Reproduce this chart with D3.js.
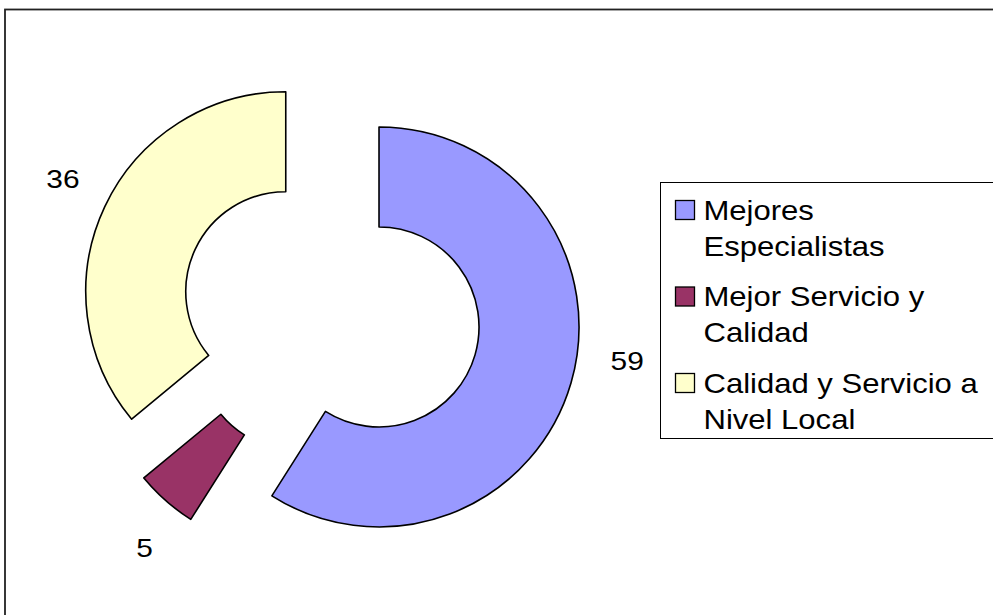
<!DOCTYPE html>
<html>
<head>
<meta charset="utf-8">
<script src="https://cdn.jsdelivr.net/npm/d3@7"></script>
<style>
  body { margin: 0; background: #fff; }
  svg { display: block; }
  text { font-family: "Liberation Sans", Arial, sans-serif; fill: #000; }
</style>
</head>
<body>
<div id="chart"></div>
<script>
// datos del gráfico
var categories = ["Mejores Especialistas", "Mejor Servicio y Calidad", "Calidad y Servicio a Nivel Local"];
var values = [59, 5, 36];
var colors = ["#9999FF", "#993366", "#FFFFCC"];
// texto de la leyenda partido en líneas como en el original
var legendLines = [["Mejores", "Especialistas"], ["Mejor Servicio y", "Calidad"], ["Calidad y Servicio a", "Nivel Local"]];

var width = 993, height = 615;
var cx = 331, cy = 313;          // centro del anillo
var outerR = 200, innerR = 100;  // radios
var explode = 50;                // separación de cada sector
var labelR = 300;                // radio de las etiquetas
var labelNudge = [-7, -3, 1.5];  // ajuste del ángulo de cada etiqueta (grados), como lo coloca Excel
var stretch = 1.15;              // el texto original sale algo ensanchado

var svg = d3.select("#chart").append("svg")
  .attr("width", width)
  .attr("height", height);

// marco del gráfico
svg.append("rect")
  .attr("x", 5).attr("y", 9.5)
  .attr("width", width + 20).attr("height", height + 20)
  .attr("fill", "none")
  .attr("stroke", "#222")
  .attr("stroke-width", 1.8);

var pie = d3.pie().sort(null).value(function (d) { return d; });
var arcs = pie(values);
var arc = d3.arc().innerRadius(innerR).outerRadius(outerR);

var g = svg.append("g").attr("transform", "translate(" + cx + "," + cy + ")");

g.selectAll("path.slice")
  .data(arcs)
  .enter()
  .append("path")
  .attr("class", "slice")
  .attr("transform", function (d) {
    var a = (d.startAngle + d.endAngle) / 2;
    return "translate(" + Math.sin(a) * explode + "," + -Math.cos(a) * explode + ")";
  })
  .attr("d", arc)
  .attr("fill", function (d, i) { return colors[i]; })
  .attr("stroke", "#000")
  .attr("stroke-width", 1.6)
  .attr("stroke-linejoin", "round");

// etiquetas de valores
g.selectAll("text.val")
  .data(arcs)
  .enter()
  .append("text")
  .attr("class", "val")
  .attr("transform", function (d, i) {
    var a = (d.startAngle + d.endAngle) / 2 + labelNudge[i] * Math.PI / 180;
    return "translate(" + Math.sin(a) * labelR + "," + -Math.cos(a) * labelR + ") scale(" + stretch + ",1)";
  })
  .attr("text-anchor", "middle")
  .attr("dy", "0.36em")
  .style("font-size", "26px")
  .text(function (d) { return d.data; });

// leyenda
var legend = svg.append("g").attr("transform", "translate(660.5,182.5)");
legend.append("rect")
  .attr("width", 400).attr("height", 256)
  .attr("fill", "#fff")
  .attr("stroke", "#000")
  .attr("stroke-width", 1);

var item = legend.selectAll("g.item")
  .data(categories)
  .enter()
  .append("g")
  .attr("class", "item")
  .attr("transform", function (d, i) { return "translate(15," + (18 + i * 86.5) + ")"; });

item.append("rect")
  .attr("width", 19).attr("height", 19)
  .attr("fill", function (d, i) { return colors[i]; })
  .attr("stroke", "#000")
  .attr("stroke-width", 1.3);

item.each(function (d, i) {
  var sel = d3.select(this);
  legendLines[i].forEach(function (line, j) {
    sel.append("text")
      .attr("transform", "translate(28," + (19 + j * 36) + ") scale(" + stretch + ",1)")
      .style("font-size", "27px")
      .text(line);
  });
});
</script>
</body>
</html>
